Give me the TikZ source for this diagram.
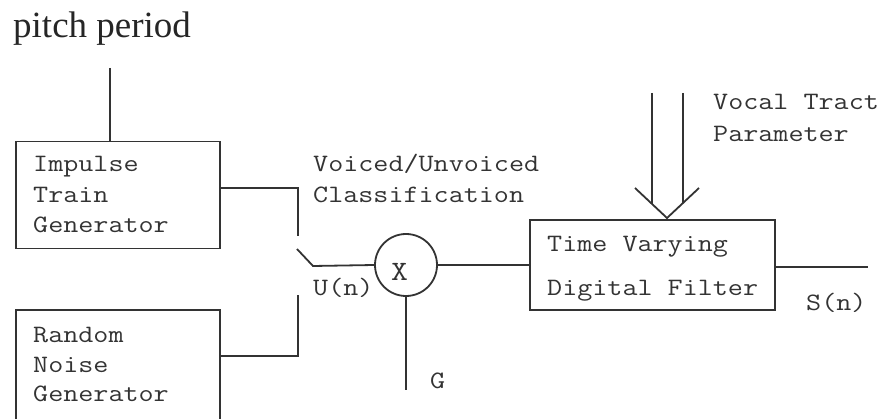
\documentclass[tikz,border=0pt]{standalone}
\usepackage{fontspec}
\setmainfont{Liberation Serif}
\newfontfamily\monofont[FakeStretch=1.17]{Latin Modern Mono}
\begin{document}
\begin{tikzpicture}[x=1pt,y=-1pt,
  ln/.style={draw=black!80, line width=1.8pt},
  blk/.style={draw=black!80, line width=1.8pt, rectangle, inner sep=0pt},
  mono/.style={font=\monofont\fontsize{25}{30}\selectfont, text=black!80, inner sep=0pt, anchor=base west},
]
\useasboundingbox (0,0) rectangle (882,419);
% title
\node[font=\fontsize{37}{40}\selectfont, inner sep=0pt, anchor=base west, text=black!85] (pitch) at (13,38) {pitch period};
\coordinate (ptop) at (110,68);
% boxes
\node[blk, minimum width=204pt, minimum height=107pt] (imp) at (118,195) {};
\node[blk, minimum width=204pt, minimum height=110pt] (noise) at (118,365) {};
\node[blk, minimum width=245pt, minimum height=90pt] (filt) at (652.5,265) {};
\node[draw=black!80, line width=1.8pt, circle, minimum size=62pt, inner sep=0pt] (mult) at (406,265) {};
% texts
\node[mono] (t1) at (33,172) {Impulse};
\node[mono] (t2) at (33,203) {Train};
\node[mono] (t3) at (33,233) {Generator};
\node[mono] (t4) at (33,342) {Random};
\node[mono] (t5) at (33,372) {Noise};
\node[mono] (t6) at (33,401) {Generator};
\node[mono] (t7) at (547,252) {Time Varying};
\node[mono] (t8) at (547,295) {Digital Filter};
\node[mono] (t9) at (313,172) {Voiced/Unvoiced};
\node[mono] (t10) at (313,203) {Classification};
\node[mono] (t11) at (313,295) {U(n)};
\node[mono] (t12) at (430,388) {G};
\node[mono] (t13) at (806,310) {S(n)};
\node[mono] (t14) at (713,110) {Vocal Tract};
\node[mono] (t15) at (713,142) {Parameter};
\node[mono, font=\monofont\fontsize{28}{30}\selectfont] (tx) at (391,280) {X};
% coordinates
\coordinate (a1) at (298,188);
\coordinate (a2) at (298,236);
\coordinate (b1) at (298,356);
\coordinate (b2) at (298,295);
\coordinate (sw1) at (297,249);
\coordinate (sw2) at (313,266);
\coordinate (gend) at (406,390);
\coordinate (outend) at (868,267);
% connectors
\draw[ln] (ptop) -- (imp.north -| ptop);
\draw[ln] (imp.east |- a1) -- (a1) -- (a2);
\draw[ln] (noise.east |- b1) -- (b1) -- (b2);
\draw[ln] (sw1) -- (sw2) -- (mult.west);
\draw[ln] (mult.south) -- (gend);
\draw[ln] (mult.east) -- (filt.west |- mult.east);
\draw[ln] (filt.east |- outend) -- (outend);
% double arrow
\coordinate (tip) at (667,218);
\coordinate (hl) at (635,188);
\coordinate (hr) at (699,188);
\draw[ln] (652,93) -- (652,204);
\draw[ln] (683,93) -- (683,203);
\draw[ln, line join=miter] (hl) -- (tip) -- (hr);
\end{tikzpicture}
\end{document}
